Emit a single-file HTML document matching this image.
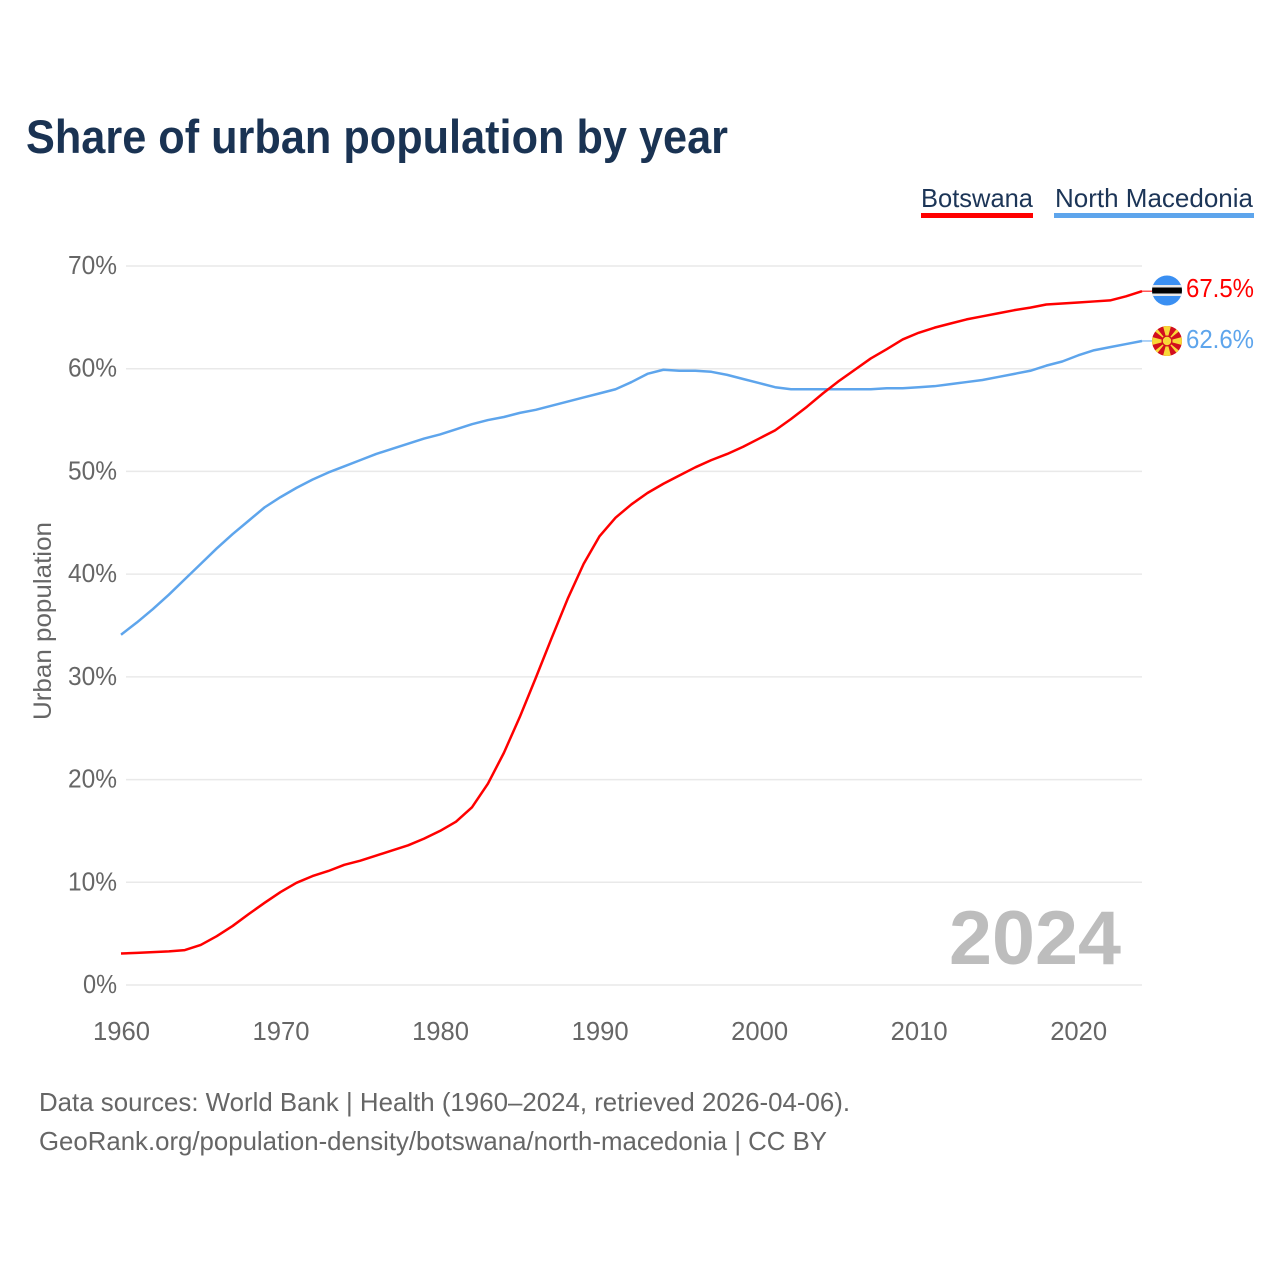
<!DOCTYPE html>
<html lang="en">
<head>
<meta charset="utf-8">
<title>Share of urban population by year</title>
<style>
html,body{margin:0;padding:0;background:#fff;}
svg{display:block;font-family:"Liberation Sans",sans-serif;}
</style>
</head>
<body>
<svg id="chart" xmlns="http://www.w3.org/2000/svg" width="1280" height="1280" viewBox="0 0 1280 1280">
  <defs>
    <clipPath id="flag-clip-bw"><circle cx="1167" cy="290.5" r="15"/></clipPath>
    <clipPath id="flag-clip-mk"><circle cx="1167" cy="341" r="15"/></clipPath>
  </defs>
  <rect x="0" y="0" width="1280" height="1280" fill="#fff"/>
  <text x="26" y="153" font-size="47" font-weight="700" fill="#1a3353" textLength="702" lengthAdjust="spacingAndGlyphs">Share of urban population by year</text>

  <g>
    <g>
      <text x="921" y="207" font-size="26" fill="#1c3557" textLength="112" lengthAdjust="spacingAndGlyphs">Botswana</text>
      <rect x="921" y="213" width="112" height="5" fill="#ff0000"/>
    </g>
    <g>
      <text x="1055" y="207" font-size="26" fill="#1c3557" textLength="198" lengthAdjust="spacingAndGlyphs">North Macedonia</text>
      <rect x="1054" y="213" width="200" height="5" fill="#5ea5ec"/>
    </g>
  </g>

  <text transform="translate(51 621) rotate(-90)" text-anchor="middle" font-size="25" fill="#666" textLength="198" lengthAdjust="spacingAndGlyphs">Urban population</text>

  <g id="grid"></g>
  <g id="y-ticks"></g>
  <g id="x-ticks"></g>

  <text x="949" y="964" font-size="76" font-weight="700" fill="#bdbdbd" textLength="172" lengthAdjust="spacingAndGlyphs">2024</text>

  <g id="series"></g>

  <g clip-path="url(#flag-clip-bw)">
    <rect x="1152" y="275" width="30" height="31" fill="#3a8ff2"/>
    <rect x="1152" y="285" width="30" height="11" fill="#e8e8e8"/>
    <rect x="1152" y="287.5" width="30" height="6" fill="#000"/>
  </g>

  <g id="flag-mk" clip-path="url(#flag-clip-mk)">
    <rect x="1152" y="326" width="30" height="30" fill="#d20f1e"/>
    <polygon points="1167,341 1163,326 1171,326" fill="#f8d838"/>
    <polygon points="1167,341 1163,356 1171,356" fill="#f8d838"/>
    <polygon points="1167,341 1152,337 1152,345" fill="#f8d838"/>
    <polygon points="1167,341 1182,337 1182,345" fill="#f8d838"/>
    <polygon points="1167,341 1152,329 1155,326" fill="#f8d838"/>
    <polygon points="1167,341 1182,329 1179,326" fill="#f8d838"/>
    <polygon points="1167,341 1152,353 1155,356" fill="#f8d838"/>
    <polygon points="1167,341 1182,353 1179,356" fill="#f8d838"/>
    <circle cx="1167" cy="341" r="5.5" fill="#d20f1e"/>
    <circle cx="1167" cy="341" r="4.2" fill="#f8d838"/>
  </g>

  <text id="value-botswana" x="1186" y="297" font-size="26" fill="#ff0000" textLength="68" lengthAdjust="spacingAndGlyphs"></text>
  <text id="value-mk" x="1186" y="348" font-size="26" fill="#5ea5ec" textLength="68" lengthAdjust="spacingAndGlyphs"></text>

  <text x="39" y="1111" font-size="26" fill="#666" textLength="811" lengthAdjust="spacingAndGlyphs">Data sources: World Bank | Health (1960–2024, retrieved 2026-04-06).</text>
  <text x="39" y="1150" font-size="26" fill="#666" textLength="788" lengthAdjust="spacingAndGlyphs">GeoRank.org/population-density/botswana/north-macedonia | CC BY</text>
</svg>
<script>
const years = [1960,1961,1962,1963,1964,1965,1966,1967,1968,1969,1970,1971,1972,1973,1974,1975,1976,1977,1978,1979,1980,1981,1982,1983,1984,1985,1986,1987,1988,1989,1990,1991,1992,1993,1994,1995,1996,1997,1998,1999,2000,2001,2002,2003,2004,2005,2006,2007,2008,2009,2010,2011,2012,2013,2014,2015,2016,2017,2018,2019,2020,2021,2022,2023,2024];
const botswana = [3.07,3.13,3.2,3.27,3.4,3.9,4.75,5.75,6.9,8.0,9.05,9.95,10.6,11.1,11.7,12.1,12.6,13.1,13.6,14.25,15.0,15.9,17.3,19.6,22.6,26.1,29.9,33.8,37.6,41.0,43.7,45.5,46.8,47.9,48.8,49.6,50.4,51.1,51.7,52.4,53.2,54.0,55.1,56.3,57.6,58.8,59.9,61.0,61.9,62.85,63.5,64.0,64.4,64.8,65.1,65.4,65.7,65.95,66.25,66.35,66.45,66.55,66.65,67.05,67.55];
const northMacedonia = [34.1,35.3,36.6,38.0,39.5,41.0,42.5,43.9,45.2,46.5,47.5,48.4,49.2,49.9,50.5,51.1,51.7,52.2,52.7,53.2,53.6,54.1,54.6,55.0,55.3,55.7,56.0,56.4,56.8,57.2,57.6,58.0,58.7,59.5,59.9,59.8,59.8,59.7,59.4,59.0,58.6,58.2,58.0,58.0,58.0,58.0,58.0,58.0,58.1,58.1,58.2,58.3,58.5,58.7,58.9,59.2,59.5,59.8,60.3,60.7,61.3,61.8,62.1,62.4,62.7];
const yTickValues = [0,10,20,30,40,50,60,70];
const yTickLabels = ["0%","10%","20%","30%","40%","50%","60%","70%"];
const xTickValues = [1960,1970,1980,1990,2000,2010,2020];
const xTickLabels = ["1960","1970","1980","1990","2000","2010","2020"];
const valueLabelBotswana = "67.5%";
const valueLabelNorthMacedonia = "62.6%";

const SVG_NS = "http://www.w3.org/2000/svg";
const xScale = function (year) { return 121 + (year - 1960) * (1142 - 121) / 64; };
const yScale = function (value) { return 985 - value * (985 - 266) / 70; };

const gridGroup = document.getElementById("grid");
const yTickGroup = document.getElementById("y-ticks");
const xTickGroup = document.getElementById("x-ticks");
const seriesGroup = document.getElementById("series");

yTickValues.forEach(function (value, i) {
  const line = document.createElementNS(SVG_NS, "line");
  line.setAttribute("x1", 126);
  line.setAttribute("x2", 1142);
  line.setAttribute("y1", yScale(value));
  line.setAttribute("y2", yScale(value));
  line.setAttribute("stroke", "#e9e9e9");
  line.setAttribute("stroke-width", "1.5");
  
  
  gridGroup.appendChild(line);

  const label = document.createElementNS(SVG_NS, "text");
  const text = yTickLabels[i];
  const width = text.length === 2 ? 34 : 49;
  label.setAttribute("x", 117 - width);
  label.setAttribute("y", yScale(value) + 8);
  label.setAttribute("font-size", "26");
  label.setAttribute("fill", "#666");
  label.setAttribute("textLength", width);
  label.setAttribute("lengthAdjust", "spacingAndGlyphs");
  label.textContent = text;
  
  
  yTickGroup.appendChild(label);
});

xTickValues.forEach(function (year, i) {
  const label = document.createElementNS(SVG_NS, "text");
  label.setAttribute("x", xScale(year) - 28);
  label.setAttribute("y", 1040);
  label.setAttribute("font-size", "26");
  label.setAttribute("fill", "#666");
  label.setAttribute("textLength", "57");
  label.setAttribute("lengthAdjust", "spacingAndGlyphs");
  label.textContent = xTickLabels[i];
  
  
  xTickGroup.appendChild(label);
});

function linePath(values) {
  return values.map(function (value, i) {
    return (i ? "L" : "M") + xScale(years[i]).toFixed(2) + " " + yScale(value).toFixed(2);
  }).join(" ");
}

const botswanaLine = document.createElementNS(SVG_NS, "path");
botswanaLine.setAttribute("d", linePath(botswana));
botswanaLine.setAttribute("fill", "none");
botswanaLine.setAttribute("stroke", "#ff0000");
botswanaLine.setAttribute("stroke-width", "2.5");
botswanaLine.setAttribute("stroke-linejoin", "round");



const macedoniaLine = document.createElementNS(SVG_NS, "path");
macedoniaLine.setAttribute("d", linePath(northMacedonia));
macedoniaLine.setAttribute("fill", "none");
macedoniaLine.setAttribute("stroke", "#5ea5ec");
macedoniaLine.setAttribute("stroke-width", "2.5");
macedoniaLine.setAttribute("stroke-linejoin", "round");



seriesGroup.appendChild(macedoniaLine);
seriesGroup.appendChild(botswanaLine);

const botswanaLeader = document.createElementNS(SVG_NS, "line");
botswanaLeader.setAttribute("x1", xScale(years[years.length - 1]));
botswanaLeader.setAttribute("x2", 1153);
botswanaLeader.setAttribute("y1", yScale(botswana[botswana.length - 1]));
botswanaLeader.setAttribute("y2", yScale(botswana[botswana.length - 1]));
botswanaLeader.setAttribute("stroke", "#ff0000");
botswanaLeader.setAttribute("stroke-width", "1");


seriesGroup.appendChild(botswanaLeader);

const macedoniaLeader = document.createElementNS(SVG_NS, "line");
macedoniaLeader.setAttribute("x1", xScale(years[years.length - 1]));
macedoniaLeader.setAttribute("x2", 1153);
macedoniaLeader.setAttribute("y1", yScale(northMacedonia[northMacedonia.length - 1]));
macedoniaLeader.setAttribute("y2", yScale(northMacedonia[northMacedonia.length - 1]));
macedoniaLeader.setAttribute("stroke", "#5ea5ec");
macedoniaLeader.setAttribute("stroke-width", "1");


seriesGroup.appendChild(macedoniaLeader);

document.getElementById("value-botswana").textContent = valueLabelBotswana;
document.getElementById("value-mk").textContent = valueLabelNorthMacedonia;
</script>
</body>
</html>
